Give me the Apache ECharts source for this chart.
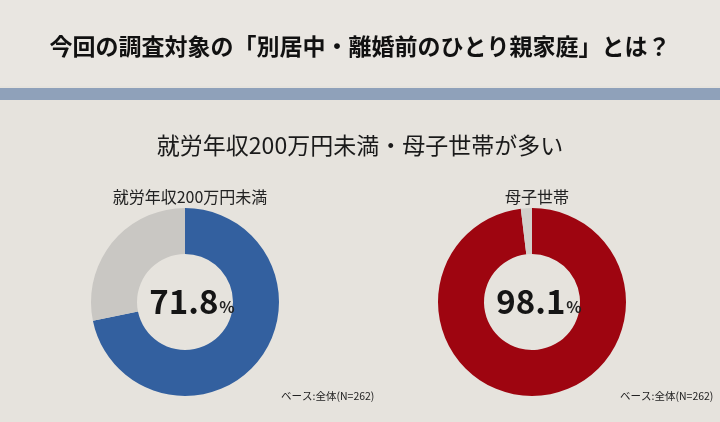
<!DOCTYPE html>
<html>
<head>
<meta charset="utf-8">
<script src="https://cdn.jsdelivr.net/npm/echarts@6/dist/echarts.min.js"></script>
<style>
html,body{margin:0;padding:0;background:#e6e3dd;}
#c{width:720px;height:422px;}
</style>
</head>
<body>
<div id="c"></div>
<script>
const mainTitle = '今回の調査対象の「別居中・離婚前のひとり親家庭」とは？';
const subTitle = '就労年収200万円未満・母子世帯が多い';
const categories = ['就労年収200万円未満', '母子世帯'];
const values = [71.8, 98.1];
const restValues = [28.2, 1.9];
const baseNote = 'ベース:全体(N=262)';

const FONT = '"Noto Sans CJK JP", "Noto Sans", sans-serif';
const centers = [[185, 302], [532, 302]];
const mainColors = ['#33609f', '#9e0510'];
const restColors = ['#c9c7c3', '#d2d0cb'];

const chart = echarts.init(document.getElementById('c'), null, {renderer: 'canvas'});

const titles = [
  {text: mainTitle, left: 'center', top: 30,
   textStyle: {fontFamily: FONT, fontSize: 23, fontWeight: 'bold', color: '#111'}},
  {text: subTitle, left: 'center', top: 129,
   textStyle: {fontFamily: FONT, fontSize: 23, fontWeight: 'normal', color: '#1a1a1a'}}
];
categories.forEach((c, i) => {
  titles.push({text: c, left: centers[i][0], top: 184, textAlign: 'center',
    textStyle: {fontFamily: FONT, fontSize: 16, fontWeight: 'normal', color: '#222'}});
  titles.push({
    text: '{n|' + values[i].toFixed(1) + '}{p|%}',
    left: centers[i][0] + 2, top: centers[i][1] - 22, textAlign: 'center',
    textStyle: {rich: {
      n: {fontFamily: FONT, fontSize: 33, fontWeight: 'bold', color: '#151515'},
      p: {fontFamily: FONT, fontSize: 16, color: '#222', padding: [10, 0, 0, 1]}
    }}
  });
});
titles.push({text: baseNote, left: 276, top: 386,
  textStyle: {fontFamily: FONT, fontSize: 10.5, fontWeight: 'normal', color: '#222'}});
titles.push({text: baseNote, left: 615, top: 386,
  textStyle: {fontFamily: FONT, fontSize: 10.5, fontWeight: 'normal', color: '#222'}});

const series = categories.map((c, i) => ({
  type: 'pie',
  center: centers[i],
  radius: [48, 94],
  startAngle: 90,
  clockwise: true,
  silent: true,
  animation: false,
  label: {show: false},
  labelLine: {show: false},
  data: [
    {name: c, value: values[i], itemStyle: {color: mainColors[i]}},
    {name: 'その他', value: restValues[i], itemStyle: {color: restColors[i]}}
  ]
}));

chart.setOption({
  backgroundColor: '#e6e3dd',
  title: titles,
  graphic: [
    {type: 'rect', shape: {x: 0, y: 0, width: 720, height: 86}, style: {fill: '#e9e6e1'}, z: -10},
    {type: 'rect', shape: {x: 0, y: 88, width: 720, height: 12}, style: {fill: '#8fa1ba'}, z: -5}
  ],
  series: series
});
</script>
</body>
</html>
